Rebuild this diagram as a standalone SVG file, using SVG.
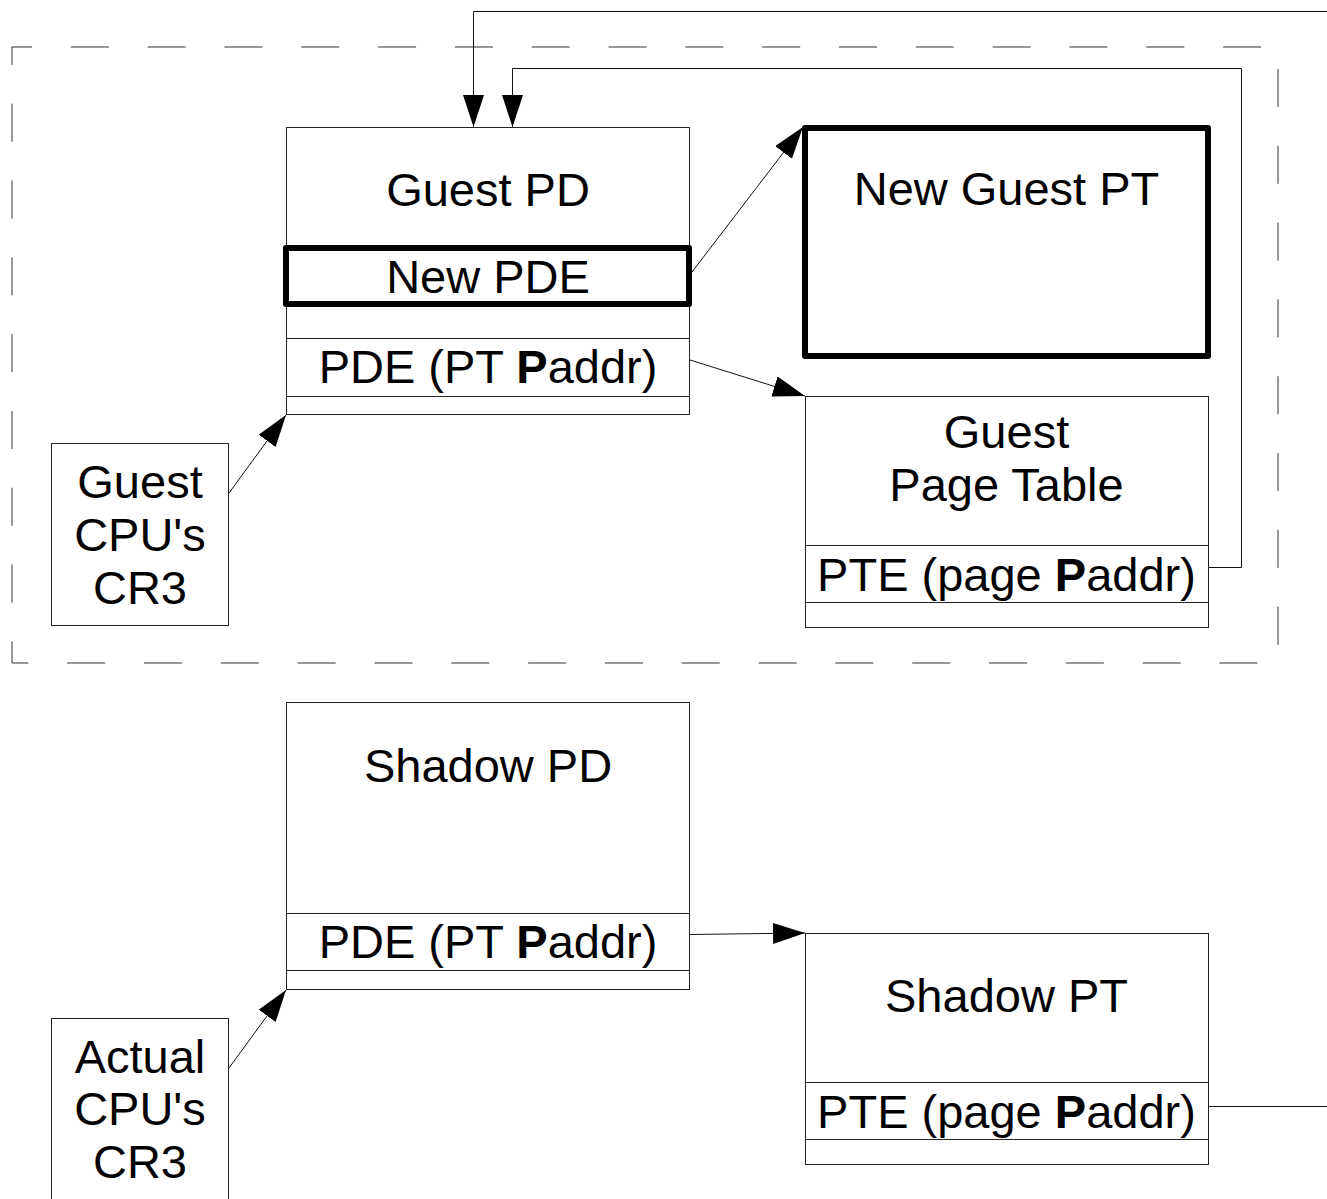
<svg xmlns="http://www.w3.org/2000/svg" width="1327" height="1199" viewBox="0 0 1327 1199">
  <style>
    .box { fill: #fff; stroke: #222; stroke-width: 1; }
    .sep { stroke: #222; stroke-width: 1; fill: none; }
    .thick { fill: none; stroke: #000; stroke-width: 6; stroke-linejoin: round; }
    .frame { fill: none; stroke: #333; stroke-width: 1; stroke-dasharray: 38 38.82; stroke-dashoffset: 18; }
    .conn { fill: none; stroke: #111; stroke-width: 1; }
    text { font-family: "Liberation Sans", Arial, sans-serif; font-size: 47px; fill: #000; text-anchor: middle; }
    .b { font-weight: bold; }
  </style>
  <defs>
    <marker id="arrow" markerUnits="userSpaceOnUse" markerWidth="34" markerHeight="24" refX="32" refY="10.5" orient="auto">
      <path d="M0,0 L32,10.5 L0,21 z" fill="#000"/>
    </marker>
  </defs>

  <!-- guest-side boundary -->
  <rect class="frame" x="12" y="47" width="1266" height="616"/>

  <!-- Guest PD -->
  <g id="guest-pd">
    <rect class="box" x="286.5" y="127.5" width="403" height="287"/>
    <line class="sep" x1="286.5" y1="338.5" x2="689.5" y2="338.5"/>
    <line class="sep" x1="286.5" y1="396.5" x2="689.5" y2="396.5"/>
    <text x="488" y="206">Guest PD</text>
    <text x="488" y="383">PDE (PT <tspan class="b">P</tspan>addr)</text>
  </g>

  <!-- New PDE entry -->
  <g id="new-pde">
    <rect class="thick" x="286" y="248" width="403" height="56"/>
    <text x="488" y="293">New PDE</text>
  </g>

  <!-- New Guest PT -->
  <g id="new-guest-pt">
    <rect class="thick" x="805" y="128" width="403" height="228"/>
    <text x="1006.5" y="205">New Guest PT</text>
  </g>

  <!-- Guest Page Table -->
  <g id="guest-pt">
    <rect class="box" x="805.5" y="396.5" width="403" height="231"/>
    <line class="sep" x1="805.5" y1="545.5" x2="1208.5" y2="545.5"/>
    <line class="sep" x1="805.5" y1="602.5" x2="1208.5" y2="602.5"/>
    <text x="1006.5" y="448">Guest</text>
    <text x="1006.5" y="501">Page Table</text>
    <text x="1006.5" y="591">PTE (page <tspan class="b">P</tspan>addr)</text>
  </g>

  <!-- Guest CPU's CR3 -->
  <g id="guest-cr3">
    <rect class="box" x="51.5" y="443.5" width="177" height="182"/>
    <text x="140" y="498">Guest</text>
    <text x="140" y="551">CPU's</text>
    <text x="140" y="604">CR3</text>
  </g>

  <!-- Shadow PD -->
  <g id="shadow-pd">
    <rect class="box" x="286.5" y="702.5" width="403" height="287"/>
    <line class="sep" x1="286.5" y1="913.5" x2="689.5" y2="913.5"/>
    <line class="sep" x1="286.5" y1="970.5" x2="689.5" y2="970.5"/>
    <text x="488" y="782">Shadow PD</text>
    <text x="488" y="958">PDE (PT <tspan class="b">P</tspan>addr)</text>
  </g>

  <!-- Shadow PT -->
  <g id="shadow-pt">
    <rect class="box" x="805.5" y="933.5" width="403" height="231"/>
    <line class="sep" x1="805.5" y1="1082.5" x2="1208.5" y2="1082.5"/>
    <line class="sep" x1="805.5" y1="1139.5" x2="1208.5" y2="1139.5"/>
    <text x="1006.5" y="1012">Shadow PT</text>
    <text x="1006.5" y="1128">PTE (page <tspan class="b">P</tspan>addr)</text>
  </g>

  <!-- Actual CPU's CR3 -->
  <g id="actual-cr3">
    <rect class="box" x="51.5" y="1018.5" width="177" height="200"/>
    <text x="140" y="1073">Actual</text>
    <text x="140" y="1125">CPU's</text>
    <text x="140" y="1178">CR3</text>
  </g>

  <!-- connectors -->
  <g id="connectors">
    <path class="conn" d="M1327,11.5 H473.5 V127" marker-end="url(#arrow)"/>
    <path class="conn" d="M1209,567.5 H1241.5 V68.5 H512.5 V127" marker-end="url(#arrow)"/>
    <path class="conn" d="M692,272 L803,127" marker-end="url(#arrow)"/>
    <path class="conn" d="M690,360 L805,396" marker-end="url(#arrow)"/>
    <path class="conn" d="M229,493 L286,415" marker-end="url(#arrow)"/>
    <path class="conn" d="M690,934.5 L805,933" marker-end="url(#arrow)"/>
    <path class="conn" d="M229,1068 L286,990" marker-end="url(#arrow)"/>
    <path class="conn" d="M1209,1106.5 H1327"/>
  </g>
</svg>
